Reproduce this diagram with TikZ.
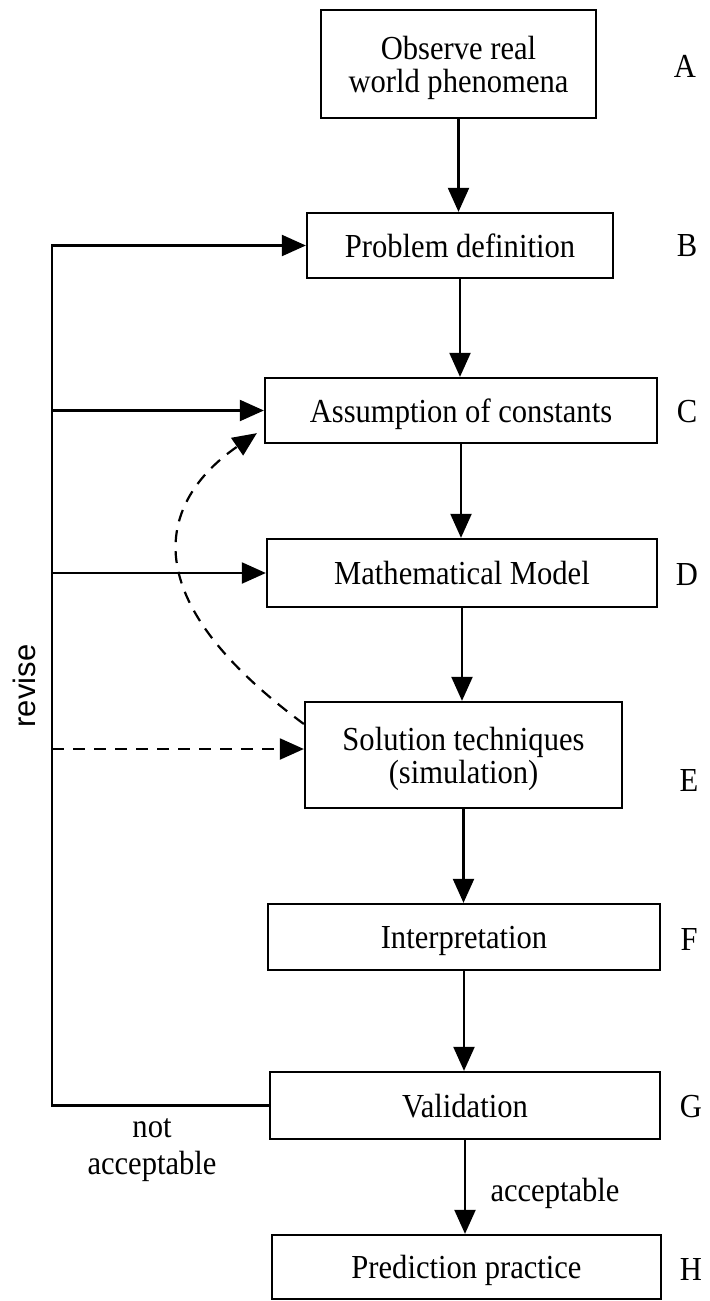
\documentclass[tikz,border=0pt]{standalone}
\usepackage{fontspec}
\setmainfont{Liberation Serif}[FakeStretch=0.91]
\newfontfamily\revisefont{Liberation Sans}
\usetikzlibrary{arrows.meta,calc}
\begin{document}
\begin{tikzpicture}[x=0.5pt,y=-0.5pt,
  box/.style={draw,line width=1.15pt,inner sep=0pt,align=center,text depth=0pt,font=\fontsize{16.8}{16.5}\selectfont},
  lbl/.style={font=\fontsize{16.8}{16.5}\selectfont},
  conn/.style={line width=1.1pt,-{Triangle[length=12pt,width=10.5pt]}},
  dsh/.style={dash pattern=on 6pt off 4.5pt}]
\useasboundingbox (0,0) rectangle (709,1301);
% boxes
\node[box,minimum width=137.5pt,minimum height=54pt] (A) at (458.5,64) {Observe real\\world phenomena};
\node[box,minimum width=153pt,minimum height=32.5pt] (B) at (460,245.5) {Problem definition};
\node[box,minimum width=196pt,minimum height=32.5pt] (C) at (461,410.5) {Assumption of constants};
\node[box,minimum width=195pt,minimum height=34pt] (D) at (462,573) {Mathematical Model};
\node[box,minimum width=158.5pt,minimum height=53pt] (E) at (463.5,755) {Solution techniques\\(simulation)};
\node[box,minimum width=196pt,minimum height=33pt] (F) at (464,937) {Interpretation};
\node[box,minimum width=195pt,minimum height=33.5pt] (G) at (465,1105.5) {Validation};
\node[box,minimum width=194.5pt,minimum height=32pt] (H) at (466.5,1267) {Prediction practice};
% side letters
\node[lbl] (la) at (685,66) {A};
\node[lbl] (lb) at (687,245.5) {B};
\node[lbl] (lc) at (687,412) {C};
\node[lbl] (ld) at (687,575) {D};
\node[lbl] (le) at (689,780) {E};
\node[lbl] (lf) at (689,939) {F};
\node[lbl] (lg) at (691,1107) {G};
\node[lbl] (lh) at (691,1269) {H};
% main flow
\draw[conn] (A.south) -- (A.south |- B.north);
\draw[conn] (B.south) -- (B.south |- C.north);
\draw[conn] (C.south) -- (C.south |- D.north);
\draw[conn] (D.south) -- (D.south |- E.north);
\draw[conn] (E.south) -- (E.south |- F.north);
\draw[conn] (F.south) -- (F.south |- G.north);
\draw[conn] (G.south) -- (G.south |- H.north);
% feedback loop
\coordinate (Lb) at (52,1105.5);
\draw[conn] (G.west) -- (Lb) -- (Lb |- B.west) -- (B.west);
\draw[conn] (Lb |- C.west) -- (C.west);
\draw[conn] (Lb |- D.west) -- (D.west);
\coordinate (Ein) at ($(E.west)+(0,-6)$);
\draw[conn,dsh] (Lb |- Ein) -- (Ein);
\draw[conn,dsh] ($(E.west)+(0,-31)$) .. controls (101,574) and (187,481) .. ($(C.south west)+(-7,-11)$);
% texts
\node[rotate=90,font=\revisefont\fontsize{15.5}{16.5}\selectfont] (rev) at (24,686) {revise};
\node[align=center,font=\fontsize{16.8}{18.5}\selectfont] (na) at (152,1150) {not\\acceptable};
\node[lbl] (acc) at (555,1193) {acceptable};
\end{tikzpicture}
\end{document}
